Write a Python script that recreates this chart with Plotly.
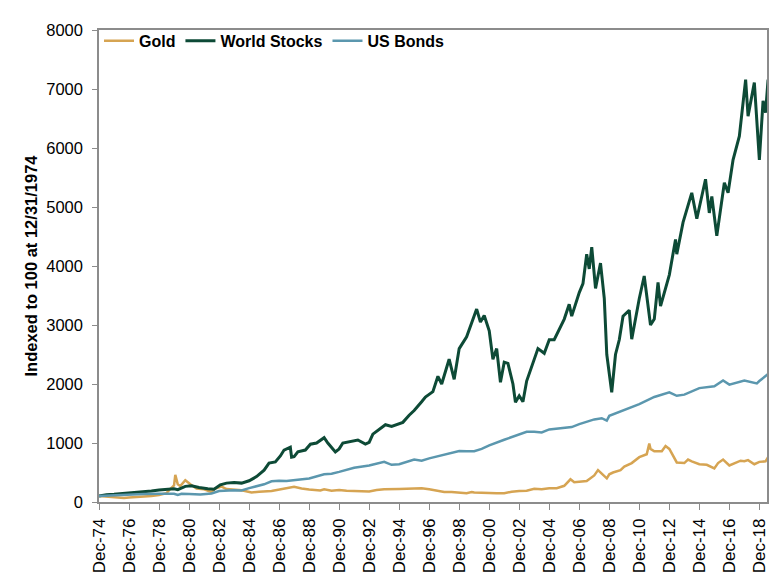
import plotly.graph_objects as go
import pandas as pd

# ---------------- data ----------------
stock_dates = ["1974-12", "1975-06", "1975-12", "1976-06", "1976-12", "1977-06", "1977-12", "1978-06",
               "1978-12", "1979-06", "1979-12", "1980-03", "1980-09", "1981-02", "1981-08", "1982-03",
               "1982-08", "1983-01", "1983-06", "1983-12", "1984-06", "1984-12", "1985-06", "1985-12",
               "1986-04", "1986-09", "1987-01", "1987-04", "1987-09", "1987-10", "1987-12", "1988-03",
               "1988-09", "1989-01", "1989-06", "1989-12", "1990-03", "1990-09", "1990-12", "1991-03",
               "1991-09", "1992-03", "1992-09", "1992-12", "1993-03", "1993-09", "1994-01", "1994-06",
               "1994-12", "1995-03", "1995-08", "1995-12", "1996-06", "1996-09", "1997-03", "1997-07",
               "1997-10", "1998-04", "1998-08", "1998-12", "1999-06", "1999-12", "2000-02", "2000-05",
               "2000-08", "2000-12", "2001-03", "2001-06", "2001-09", "2001-12", "2002-03", "2002-07",
               "2002-09", "2002-12", "2003-03", "2003-06", "2003-12", "2004-03", "2004-08", "2004-12",
               "2005-04", "2005-12", "2006-04", "2006-06", "2006-12", "2007-03", "2007-06", "2007-08",
               "2007-10", "2008-01", "2008-05", "2008-08", "2008-10", "2008-12", "2009-02", "2009-05",
               "2009-08", "2009-11", "2010-04", "2010-06", "2010-12", "2011-04", "2011-09", "2011-12",
               "2012-03", "2012-05", "2012-12", "2013-05", "2013-06", "2013-11", "2014-06", "2014-10",
               "2014-12", "2015-05", "2015-08", "2015-10", "2016-02", "2016-06", "2016-08", "2016-11",
               "2017-03", "2017-08", "2018-01", "2018-03", "2018-08", "2018-12", "2019-03", "2019-05",
               "2019-07"]
stock_values = [100, 125, 130, 140, 155, 160, 170, 185,
                205, 215, 225, 210, 265, 275, 245, 225,
                215, 290, 320, 330, 320, 360, 430, 540,
                660, 680, 780, 880, 930, 760, 770, 850,
                880, 980, 1000, 1090, 1000, 850, 900, 1000,
                1020, 1050, 980, 1010, 1150, 1250, 1310, 1280,
                1330, 1350, 1470, 1550, 1700, 1780, 1870, 2130,
                2000, 2420, 2080, 2600, 2800, 3150, 3270, 3050,
                3160, 2900, 2420, 2600, 2030, 2370, 2350, 2000,
                1690, 1800, 1700, 2050, 2400, 2600, 2520, 2750,
                2750, 3100, 3350, 3150, 3550, 3700, 4200, 3950,
                4320, 3620, 4050, 3450, 2500, 2200, 1860, 2500,
                2750, 3150, 3250, 2760, 3450, 3830, 3000, 3100,
                3720, 3320, 3850, 4450, 4200, 4740, 5240, 4800,
                5000, 5470, 4900, 5180, 4510, 5100, 5410, 5240,
                5800, 6200, 7160, 6540, 7110, 5800, 6800, 6600,
                7160]

gold_dates = ["1974-12", "1975-06", "1975-12", "1976-08", "1976-12", "1977-06", "1977-12", "1978-06",
              "1978-12", "1979-06", "1979-09", "1979-12", "1980-01", "1980-03", "1980-05", "1980-09",
              "1981-01", "1981-06", "1981-12", "1982-06", "1982-09", "1983-02", "1983-06", "1983-12",
              "1984-06", "1985-02", "1985-08", "1986-06", "1986-12", "1987-06", "1987-12", "1988-06",
              "1988-12", "1989-09", "1989-12", "1990-06", "1990-12", "1991-06", "1991-12", "1992-06",
              "1992-12", "1993-06", "1993-12", "1994-12", "1995-12", "1996-06", "1996-12", "1997-06",
              "1997-12", "1998-06", "1998-12", "1999-06", "1999-10", "1999-12", "2000-06", "2000-12",
              "2001-06", "2001-12", "2002-06", "2002-12", "2003-06", "2003-12", "2004-06", "2004-12",
              "2005-06", "2005-12", "2006-05", "2006-08", "2006-12", "2007-06", "2007-12", "2008-03",
              "2008-06", "2008-10", "2008-12", "2009-03", "2009-09", "2009-12", "2010-06", "2010-12",
              "2011-06", "2011-08", "2011-09", "2011-12", "2012-06", "2012-09", "2012-12", "2013-04",
              "2013-06", "2013-12", "2014-03", "2014-06", "2014-12", "2015-06", "2015-12", "2016-03",
              "2016-07", "2016-12", "2017-06", "2017-09", "2017-12", "2018-03", "2018-08", "2018-12",
              "2019-05", "2019-07"]
gold_values = [100, 90, 75, 68, 75, 80, 90, 100,
               120, 150, 220, 280, 460, 300, 270, 370,
               300, 230, 215, 170, 230, 260, 220, 205,
               200, 160, 175, 185, 210, 240, 260, 230,
               210, 195, 215, 190, 205, 190, 190, 185,
               180, 205, 215, 220, 225, 235, 215, 190,
               170, 170, 165, 150, 170, 160, 155, 148,
               148, 150, 175, 185, 190, 225, 215, 235,
               235, 275, 385, 335, 340, 355, 450, 540,
               480, 400, 470, 500, 540, 600, 660, 760,
               810, 990, 900, 860, 860, 950, 900, 760,
               670, 660, 720, 690, 640, 630, 570, 660,
               720, 620, 680, 700, 690, 710, 640, 680,
               690, 760]

bond_dates = ["1974-12", "1975-12", "1976-12", "1977-12", "1978-12", "1979-12", "1980-03", "1980-06",
              "1980-12", "1981-09", "1982-06", "1982-12", "1983-12", "1984-06", "1984-12", "1985-12",
              "1986-06", "1986-12", "1987-06", "1987-12", "1988-12", "1989-12", "1990-06", "1990-12",
              "1991-12", "1992-12", "1993-12", "1994-06", "1994-12", "1995-12", "1996-06", "1996-12",
              "1997-12", "1998-12", "1999-06", "1999-12", "2000-06", "2000-12", "2001-12", "2002-12",
              "2003-06", "2003-12", "2004-06", "2004-12", "2005-12", "2006-06", "2006-12", "2007-12",
              "2008-06", "2008-10", "2008-12", "2009-12", "2010-12", "2011-12", "2012-12", "2013-06",
              "2013-12", "2014-12", "2015-12", "2016-07", "2016-12", "2017-12", "2018-10", "2018-12",
              "2019-07"]
bond_values = [100, 112, 130, 135, 138, 140, 118, 140,
               135, 128, 145, 185, 200, 195, 235, 300,
               350, 360, 355, 370, 400, 470, 480, 510,
               580, 620, 680, 630, 640, 720, 700, 740,
               800, 865, 860, 860, 900, 960, 1055, 1150,
               1190, 1190, 1180, 1230, 1260, 1270, 1320, 1400,
               1420, 1380, 1460, 1560, 1660, 1780, 1860, 1800,
               1820, 1930, 1960, 2060, 1990, 2060, 2010, 2050,
               2170]

tick_dates = [f"{y}-12-31" for y in range(1974, 2019, 2)]
tick_labels = [f"Dec-{str(y)[2:]}" for y in range(1974, 2019, 2)]

# ---------------- figure ----------------
def to_dt(lst):
    return pd.to_datetime(lst) + pd.offsets.MonthEnd(0)

FONT = "Liberation Sans, Arial, sans-serif"
AXIS_COLOR = "#8c8c8c"

fig = go.Figure()
fig.add_trace(go.Scatter(x=to_dt(gold_dates), y=gold_values, name="Gold", mode="lines",
                         line=dict(color="#D6A452", width=2.5)))
fig.add_trace(go.Scatter(x=to_dt(stock_dates), y=stock_values, name="World Stocks", mode="lines",
                         line=dict(color="#0D4A36", width=3)))
fig.add_trace(go.Scatter(x=to_dt(bond_dates), y=bond_values, name="US Bonds", mode="lines",
                         line=dict(color="#5B97AE", width=2.5)))

fig.update_layout(
    width=784, height=581,
    margin=dict(l=99, r=17, t=30, b=79, autoexpand=False),
    paper_bgcolor="white", plot_bgcolor="white",
    font=dict(family=FONT, size=17, color="#000"),
    showlegend=True,
    legend=dict(orientation="h", x=0.0, y=1.013, xanchor="left", yanchor="top",
                font=dict(family=FONT, size=16, color="#000", weight="bold"),
                bgcolor="rgba(0,0,0,0)", itemwidth=30, tracegroupgap=0),
    xaxis=dict(type="date", range=["1974-12-31", "2019-07-05"], automargin=False,
               tickmode="array", tickvals=tick_dates, ticktext=tick_labels, tickangle=-90,
               showline=True, linecolor=AXIS_COLOR, linewidth=1.5, mirror=True,
               ticks="outside", ticklen=6, tickcolor=AXIS_COLOR, showgrid=False, zeroline=False,
               ticklabelstandoff=2,
               tickfont=dict(family=FONT, size=17)),
    yaxis=dict(range=[0, 8000], tickmode="linear", tick0=0, dtick=1000, automargin=False,
               showline=True, linecolor=AXIS_COLOR, linewidth=1.5, mirror=True,
               ticks="outside", ticklen=5, tickcolor=AXIS_COLOR, showgrid=False, zeroline=False,
               ticklabelstandoff=6,
               tickfont=dict(family=FONT, size=16.5),
               title=dict(text="Indexed to 100 at 12/31/1974", standoff=4,
                          font=dict(family=FONT, size=16.5, weight="bold"))),
)

fig.write_html("out.html")
